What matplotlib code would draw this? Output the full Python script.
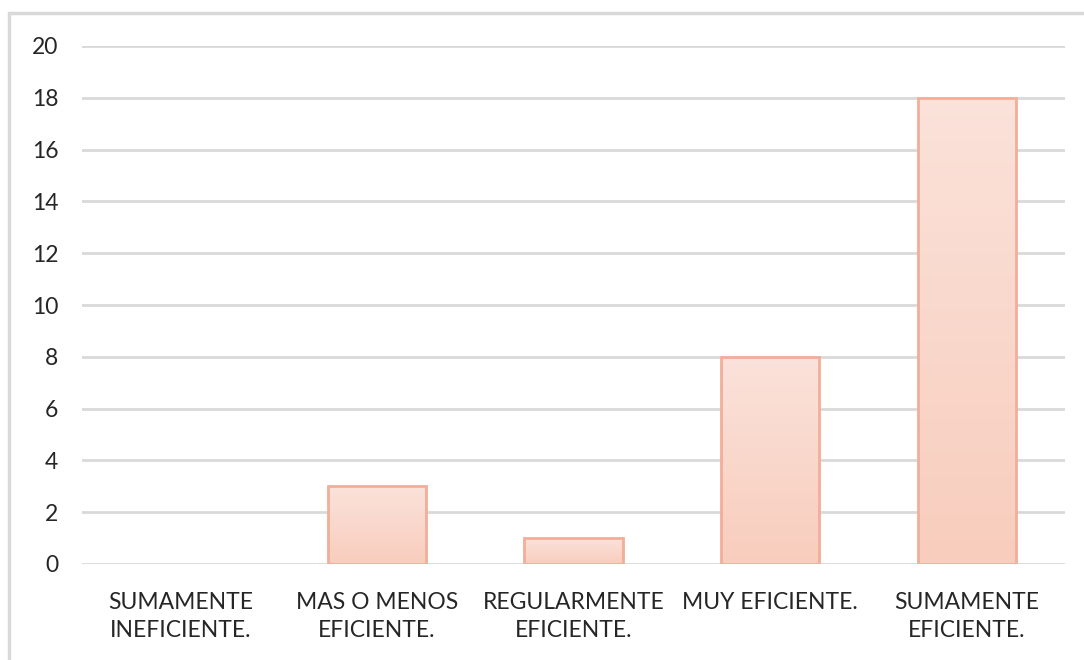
import numpy as np
import matplotlib.pyplot as plt
from matplotlib.patches import Rectangle
from matplotlib.colors import LinearSegmentedColormap

categories = ["SUMAMENTE\nINEFICIENTE.", "MAS O MENOS\nEFICIENTE.", "REGULARMENTE\nEFICIENTE.",
              "MUY EFICIENTE.", "SUMAMENTE\nEFICIENTE."]
values = [0, 3, 1, 8, 18]
yticks = list(range(0, 21, 2))

plt.rcParams['font.family'] = ['Lato', 'DejaVu Sans']

fig = plt.figure(figsize=(10.84, 6.6), dpi=100)
ax = fig.add_axes([82 / 1084, 1 - 564 / 660, (1065 - 82) / 1084, (564 - 46) / 660])

# chart border (cropped on right/bottom)
fig.patches.append(Rectangle((9 / 1084, -0.1), 1.2, 1.1 - 13 / 660, transform=fig.transFigure,
                             fill=False, edgecolor='#D9D9D9', linewidth=2.5))

x = np.arange(len(categories))
edges = ['#F2AE98' if v > 0 else 'none' for v in values]
bars = ax.bar(x, values, width=0.5, color='none', edgecolor=edges, linewidth=2, zorder=3)

grad = LinearSegmentedColormap.from_list('g', ['#F8CDBD', '#FBE2DA'])
img = np.linspace(0, 1, 256).reshape(-1, 1)
for b in bars:
    if b.get_height() <= 0:
        continue
    x0, y0 = b.get_x(), b.get_y()
    im = ax.imshow(img, cmap=grad, origin='lower', aspect='auto', zorder=2,
                   extent=(x0, x0 + b.get_width(), y0, y0 + b.get_height()))
    im.set_clip_path(b)

ax.set_xlim(-0.5, len(categories) - 0.5)
ax.set_ylim(0, 20)
ax.set_yticks(yticks)
ax.set_xticks(x)
ax.set_xticklabels(categories, fontsize=16.5, color='#262626', linespacing=1.45)
ax.tick_params(axis='y', labelsize=16.5, labelcolor='#262626', length=0, pad=17)
ax.tick_params(axis='x', length=0, pad=20)
ax.grid(axis='y', color='#D9D9D9', linewidth=2, zorder=0)
ax.set_axisbelow(True)
for s in ax.spines.values():
    s.set_visible(False)

fig.savefig('out.png', dpi=100)
